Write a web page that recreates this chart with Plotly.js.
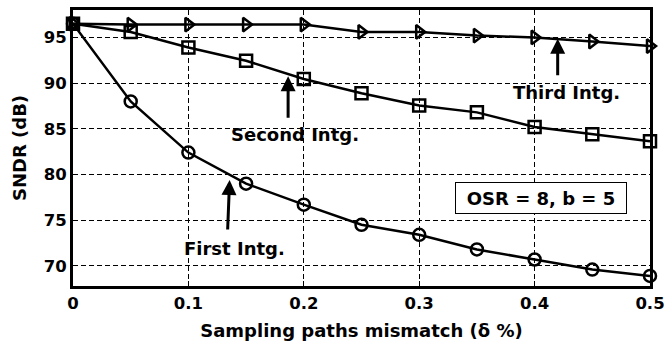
<!DOCTYPE html>
<html><head><meta charset="utf-8">
<script src="https://cdn.plot.ly/plotly-3.0.1.min.js"></script>
<style>html,body{margin:0;padding:0;background:#fff}#chart{width:666px;height:341px}</style>
</head><body><div id="chart"></div>
<script>
var mismatch = [0, 0.05, 0.1, 0.15, 0.2, 0.25, 0.3, 0.35, 0.4, 0.45, 0.5];
var firstIntg = [96.5, 88.0, 82.4, 79.0, 76.7, 74.5, 73.4, 71.8, 70.7, 69.6, 68.9];
var secondIntg = [96.5, 95.6, 93.9, 92.45, 90.45, 88.9, 87.55, 86.8, 85.2, 84.4, 83.65];
var thirdIntg = [96.5, 96.4, 96.4, 96.4, 96.4, 95.6, 95.6, 95.2, 95.0, 94.55, 94.05];
var xTicks = [0, 0.1, 0.2, 0.3, 0.4, 0.5];
var xTickText = ['0', '0.1', '0.2', '0.3', '0.4', '0.5'];
var yTicks = [70, 75, 80, 85, 90, 95];

var FONT = 'DejaVu Sans, sans-serif';
function series(y, sym) {
  return {x: mismatch, y: y, mode: 'lines+markers', type: 'scatter',
    line: {color: '#000', width: 2.5},
    marker: {symbol: sym, size: 12, color: '#000', line: {color: '#000', width: 2.5}},
    showlegend: false, cliponaxis: false};
}
var data = [series(firstIntg, 'circle-open'), series(secondIntg, 'square-open'), series(thirdIntg, 'triangle-right-open')];
var tickF = {family: FONT, size: 16.5, color: '#000', weight: 'bold'};
var tf = {family: FONT, size: 18, color: '#000', weight: 'bold'};
var layout = {
  width: 666, height: 341,
  margin: {l: 73, r: 16, t: 10, b: 55},
  paper_bgcolor: '#fff', plot_bgcolor: '#fff',
  xaxis: {range: [0, 0.5], tickvals: xTicks, ticktext: xTickText,
    showline: true, linecolor: '#000', linewidth: 3, mirror: true,
    ticks: 'inside', ticklen: 5, tickcolor: '#000',
    showgrid: true, gridcolor: '#000', gridwidth: 1, griddash: '5px,3px',
    zeroline: false, tickfont: tickF,
    title: {text: 'Sampling paths mismatch (δ %)', font: tf, standoff: 13}},
  yaxis: {range: [67.8, 98], tickvals: yTicks,
    showline: true, linecolor: '#000', linewidth: 3, mirror: true,
    ticks: 'inside', ticklen: 5, tickcolor: '#000',
    showgrid: true, gridcolor: '#000', gridwidth: 1, griddash: '5px,3px',
    zeroline: false, tickfont: tickF,
    title: {text: 'SNDR (dB)', font: tf, standoff: 13}},
  annotations: [
    {x: 0.42, y: 94.86, xref: 'x', yref: 'y', text: '', showarrow: true, ax: 0, ay: 38, arrowhead: 2, arrowsize: 1, arrowwidth: 3, arrowcolor: '#000'},
    {x: 0.1864, y: 90.74, xref: 'x', yref: 'y', text: '', showarrow: true, ax: 0, ay: 43, arrowhead: 2, arrowsize: 1, arrowwidth: 3, arrowcolor: '#000'},
    {x: 0.1357, y: 79.4, xref: 'x', yref: 'y', text: '', showarrow: true, ax: -2, ay: 51, arrowhead: 2, arrowsize: 1, arrowwidth: 3, arrowcolor: '#000'},
    {x: 0.4276, y: 88.93, xref: 'x', yref: 'y', text: 'Third Intg.', showarrow: false, font: tf},
    {x: 0.1928, y: 84.38, xref: 'x', yref: 'y', text: 'Second Intg.', showarrow: false, font: tf},
    {x: 0.1402, y: 71.9, xref: 'x', yref: 'y', text: 'First Intg.', showarrow: false, font: tf},
    {x: 0.4058, y: 77.45, xref: 'x', yref: 'y', text: 'OSR = 8, b = 5', showarrow: false,
      font: tf,
      bordercolor: '#000', borderwidth: 1, bgcolor: '#fff', width: 168, height: 28, borderpad: 1}
  ]
};
Plotly.newPlot('chart', data, layout, {staticPlot: true, displayModeBar: false});
</script></body></html>
